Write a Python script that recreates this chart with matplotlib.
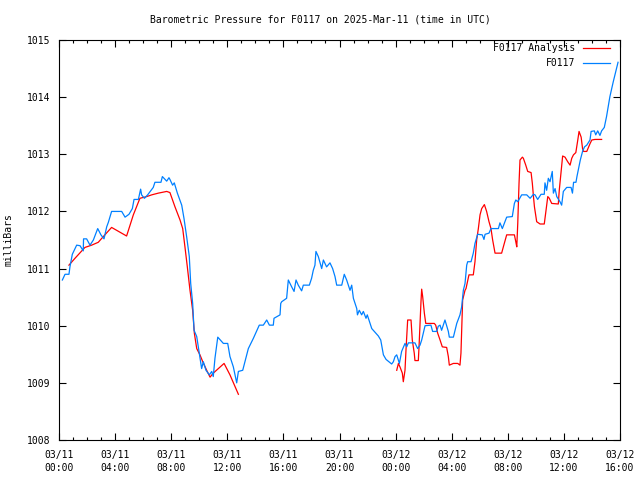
import matplotlib
matplotlib.use('Agg')
import matplotlib.pyplot as plt
import numpy as np

# hours after 2025-03-11 00:00 UTC
obs_hours = [0.24, 0.43, 0.71, 0.78, 0.95, 1.26, 1.50, 1.73, 1.75, 1.97, 2.21, 2.45, 2.76, 2.99,
             3.21, 3.40, 3.52, 3.75, 4.47, 4.71, 4.99, 5.23, 5.35, 5.66, 5.82, 5.89, 6.09, 6.32,
             6.72, 6.84, 7.27, 7.37, 7.68, 7.84, 7.91, 8.10, 8.22, 8.44, 8.75, 8.91, 9.10, 9.29,
             9.39, 9.53, 9.63, 9.82, 10.00, 10.17, 10.29, 10.48, 10.72, 10.89, 11.00, 11.12,
             11.32, 11.72, 12.03, 12.19, 12.43, 12.67, 12.79, 13.10, 13.50, 13.86, 14.28, 14.57,
             14.81, 15.00, 15.28, 15.33, 15.76, 15.81, 15.88, 16.23, 16.35, 16.59, 16.76, 16.90,
             17.06, 17.30, 17.42, 17.85, 18.01, 18.13, 18.25, 18.32, 18.49, 18.73, 18.85, 19.08,
             19.32, 19.51, 19.68, 19.80, 20.16, 20.34, 20.51, 20.75, 20.87, 20.99, 21.23, 21.28,
             21.41, 21.58, 21.70, 21.89, 21.98, 22.30, 22.77, 22.94, 23.13, 23.32, 23.72, 23.84,
             23.96, 24.08, 24.27, 24.43, 24.67, 24.79, 24.91, 25.38, 25.57, 25.74, 25.86, 26.10,
             26.52, 26.64, 26.93, 27.04, 27.17, 27.28, 27.52, 27.76, 27.83, 28.12, 28.36, 28.59,
             28.71, 28.83, 28.95, 29.07, 29.14, 29.38, 29.54, 29.66, 29.85, 30.18, 30.30, 30.38,
             30.66, 30.80, 31.33, 31.44, 31.61, 31.80, 31.92, 32.32, 32.47, 32.57, 32.71, 32.99,
             33.35, 33.59, 33.83, 33.94, 34.13, 34.37, 34.60, 34.65, 34.77, 34.89, 35.01, 35.17,
             35.25, 35.37, 35.49, 35.72, 35.84, 35.96, 36.20, 36.51, 36.61, 36.69, 36.86, 36.93,
             37.17, 37.33, 37.47, 37.63, 37.86, 37.94, 38.17, 38.27, 38.41, 38.57, 38.69, 38.88,
             39.04, 39.28, 39.52, 39.86]
obs_mb = [1010.80, 1010.90, 1010.90, 1011.03, 1011.25, 1011.41, 1011.40, 1011.31, 1011.52, 1011.52,
          1011.41, 1011.50, 1011.70, 1011.59, 1011.52, 1011.73, 1011.81, 1012.00, 1012.00, 1011.90,
          1011.95, 1012.05, 1012.21, 1012.21, 1012.39, 1012.29, 1012.23, 1012.29, 1012.42, 1012.51,
          1012.51, 1012.61, 1012.53, 1012.59, 1012.56, 1012.46, 1012.50, 1012.32, 1012.11, 1011.88,
          1011.56, 1011.21, 1010.74, 1010.39, 1009.92, 1009.81, 1009.52, 1009.25, 1009.37, 1009.22,
          1009.14, 1009.20, 1009.11, 1009.43, 1009.80, 1009.69, 1009.69, 1009.46, 1009.28, 1009.00,
          1009.20, 1009.22, 1009.60, 1009.78, 1010.01, 1010.01, 1010.10, 1010.01, 1010.01, 1010.13,
          1010.19, 1010.39, 1010.42, 1010.48, 1010.80, 1010.68, 1010.60, 1010.80, 1010.71, 1010.61,
          1010.71, 1010.71, 1010.83, 1010.97, 1011.06, 1011.30, 1011.21, 1011.00, 1011.15, 1011.03,
          1011.10, 1011.00, 1010.86, 1010.71, 1010.71, 1010.90, 1010.80, 1010.62, 1010.71, 1010.48,
          1010.30, 1010.19, 1010.27, 1010.19, 1010.25, 1010.13, 1010.19, 1009.95, 1009.82, 1009.75,
          1009.49, 1009.41, 1009.33, 1009.37, 1009.46, 1009.49, 1009.34, 1009.55, 1009.69, 1009.63,
          1009.70, 1009.70, 1009.60, 1009.66, 1009.75, 1010.00, 1010.01, 1009.90, 1009.90, 1009.99,
          1010.01, 1009.92, 1010.10, 1009.90, 1009.80, 1009.80, 1010.04, 1010.19, 1010.33, 1010.62,
          1010.74, 1011.06, 1011.12, 1011.12, 1011.27, 1011.44, 1011.60, 1011.59, 1011.51, 1011.60,
          1011.62, 1011.70, 1011.70, 1011.80, 1011.70, 1011.82, 1011.90, 1011.91, 1012.14, 1012.20,
          1012.17, 1012.29, 1012.29, 1012.23, 1012.30, 1012.29, 1012.21, 1012.30, 1012.30, 1012.50,
          1012.37, 1012.58, 1012.52, 1012.70, 1012.32, 1012.40, 1012.26, 1012.17, 1012.11, 1012.35,
          1012.42, 1012.42, 1012.32, 1012.51, 1012.51, 1012.61, 1012.90, 1013.05, 1013.13, 1013.16,
          1013.25, 1013.40, 1013.41, 1013.34, 1013.41, 1013.33, 1013.41, 1013.47, 1013.66, 1014.01,
          1014.27, 1014.61]

# analysis, two pieces with a gap between them (nan)
ana_hours = [0.71, 1.14, 1.85, 2.33, 2.80, 3.16, 3.75, 4.82, 5.30, 5.77, 6.25, 6.61, 7.08, 7.68,
             7.91, 8.27, 8.63, 8.82, 8.98, 9.15, 9.34, 9.53, 9.65, 9.82, 10.05, 10.25, 10.53,
             10.77, 11.00, 11.77, 12.19, 12.79, 18.0,
             24.08, 24.20, 24.31, 24.48, 24.55, 24.67, 24.74, 24.86, 25.10, 25.19, 25.33, 25.38,
             25.62, 25.67, 25.81, 25.86, 25.93, 26.05, 26.15, 26.76, 26.86, 27.00, 27.17, 27.33,
             27.64, 27.76, 27.83, 28.12, 28.43, 28.59, 28.66, 28.78, 28.95, 29.02, 29.23, 29.54,
             29.66, 29.78, 29.90, 30.02, 30.14, 30.33, 30.49, 30.66, 30.80, 30.92, 31.09, 31.56,
             31.75, 31.92, 32.47, 32.57, 32.64, 32.71, 32.80, 32.87, 33.04, 33.11, 33.28, 33.42,
             33.66, 33.75, 33.83, 33.90, 34.06, 34.30, 34.60, 34.70, 34.85, 34.96, 35.13, 35.60,
             35.67, 35.79, 35.91, 36.08, 36.27, 36.44, 36.56, 36.68, 36.85, 36.99, 37.08, 37.23,
             37.33, 37.40, 37.63, 37.87, 37.99, 38.22, 38.69]
ana_mb = [1011.06, 1011.18, 1011.37, 1011.41, 1011.46, 1011.56, 1011.72, 1011.57, 1011.94, 1012.23,
          1012.26, 1012.29, 1012.32, 1012.35, 1012.33, 1012.08, 1011.85, 1011.70, 1011.38, 1011.03,
          1010.62, 1010.27, 1009.87, 1009.60, 1009.49, 1009.37, 1009.22, 1009.10, 1009.17, 1009.34,
          1009.14, 1008.80, np.nan,
          1009.22, 1009.34, 1009.28, 1009.17, 1009.02, 1009.22, 1009.57, 1010.10, 1010.10, 1009.75,
          1009.52, 1009.39, 1009.39, 1009.63, 1010.42, 1010.64, 1010.51, 1010.22, 1010.04, 1010.04,
          1010.01, 1009.87, 1009.75, 1009.63, 1009.62, 1009.46, 1009.31, 1009.34, 1009.34, 1009.31,
          1009.52, 1010.45, 1010.62, 1010.65, 1010.89, 1010.89, 1011.12, 1011.50, 1011.70, 1011.94,
          1012.05, 1012.12, 1012.00, 1011.82, 1011.70, 1011.50, 1011.27, 1011.27, 1011.44, 1011.59,
          1011.59, 1011.47, 1011.38, 1011.79, 1012.49, 1012.90, 1012.95, 1012.93, 1012.81, 1012.70,
          1012.68, 1012.49, 1012.26, 1012.08, 1011.82, 1011.78, 1011.78, 1011.97, 1012.26, 1012.23,
          1012.14, 1012.13, 1012.37, 1012.67, 1012.97, 1012.95, 1012.87, 1012.81, 1012.93, 1012.99,
          1013.03, 1013.25, 1013.40, 1013.30, 1013.10, 1013.05, 1013.05, 1013.19, 1013.25, 1013.26,
          1013.26]

tick_hours = [0, 4, 8, 12, 16, 20, 24, 28, 32, 36, 40]
tick_labels = ['03/11\n00:00', '03/11\n04:00', '03/11\n08:00', '03/11\n12:00', '03/11\n16:00',
               '03/11\n20:00', '03/12\n00:00', '03/12\n04:00', '03/12\n08:00', '03/12\n12:00',
               '03/12\n16:00']

plt.rcParams['font.family'] = ['DejaVu Sans Mono']
plt.rcParams['font.size'] = 7

fig = plt.figure(figsize=(6.4, 4.8), dpi=100)
ax = fig.add_axes([59/640., 40/480., 561/640., 400/480.])

ax.plot(ana_hours, ana_mb, color='#ff0000', lw=0.9, label='F0117 Analysis')
ax.plot(obs_hours, obs_mb, color='#0080ff', lw=0.9, label='F0117')

ax.set_xlim(0, 40)
ax.set_ylim(1008, 1015)
ax.set_xticks(tick_hours)
ax.set_xticklabels(tick_labels, linespacing=1.45)
ax.set_xticks(np.arange(0, 41, 1), minor=True)
ax.set_yticks(np.arange(1008, 1016, 1))
ax.tick_params(which='both', direction='in', top=True, right=True, width=0.8)
ax.tick_params(which='major', length=5)
ax.tick_params(which='minor', length=2.5)
ax.tick_params(axis='x', pad=7)
ax.tick_params(axis='y', pad=6)
for s in ax.spines.values():
    s.set_linewidth(0.8)

ax.set_ylabel('milliBars', labelpad=10)
fig.text(0.5, 1 - 20/480., 'Barometric Pressure for F0117 on 2025-Mar-11 (time in UTC)',
         ha='center', va='center')

ax.legend(loc='upper right', bbox_to_anchor=(0.982, 0.992), frameon=False, markerfirst=False,
          handlelength=2.8, handletextpad=0.8, labelspacing=0.5, borderaxespad=0, borderpad=0)

fig.savefig('out.png', dpi=100)
